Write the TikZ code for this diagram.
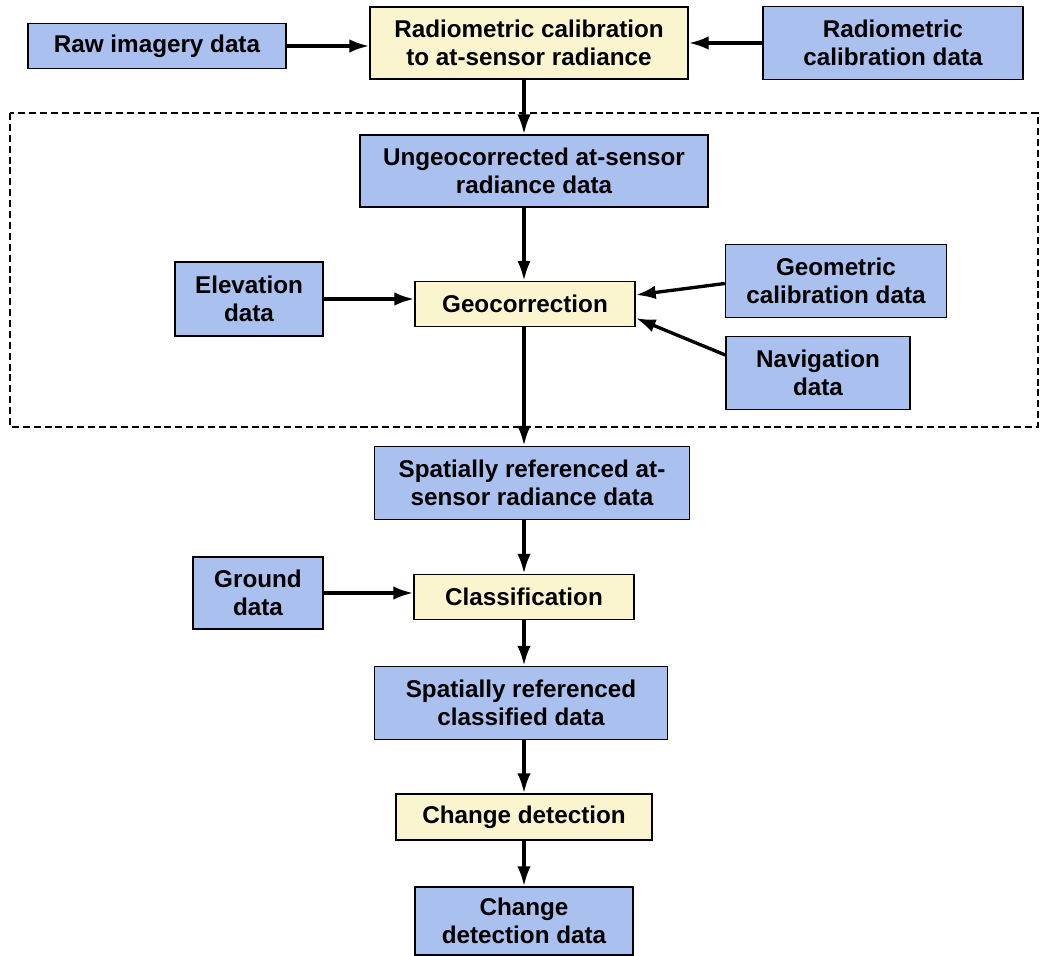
\documentclass[tikz,border=0pt]{standalone}
\usepackage{fontspec}
\setmainfont{Liberation Sans}
\usepackage{xcolor}
\usepackage{tikz}
\usetikzlibrary{arrows.meta}
\definecolor{datblue}{HTML}{AAC0EF}
\definecolor{stepyellow}{HTML}{FBF5CF}

\begin{document}
\begin{tikzpicture}[x=0.02cm,y=-0.02cm,
    box/.style={draw,line width=0.8pt,align=center,inner sep=0pt,
                font=\bfseries\fontsize{13.8}{15.8}\selectfont},
    datbox/.style={box,fill=datblue},
    procbox/.style={box,fill=stepyellow},
    flow/.style={line width=1.9pt,-{Latex[length=0.4cm,width=0.27cm]}}]
      \useasboundingbox (0,0) rectangle (1041,956);
      % outer frame around the geocorrection stage
      \draw[dash pattern=on 4pt off 2.2pt,line width=1pt] (10,113) rectangle (1038,427);
      \node[datbox,minimum width=5.16cm,minimum height=0.9cm] (raw) at (157,46) {Raw imagery data};
      \node[procbox,minimum width=6.36cm,minimum height=1.44cm] (radcal) at (529,43) {Radiometric calibration\\to at-sensor radiance};
      \node[datbox,minimum width=5.2cm,minimum height=1.46cm] (radcaldat) at (893,43) {Radiometric\\calibration data};
      \node[datbox,minimum width=6.96cm,minimum height=1.44cm] (ungeo) at (534,171) {Ungeocorrected at-sensor\\radiance data};
      \node[datbox,minimum width=2.96cm,minimum height=1.48cm] (elev) at (249,299) {Elevation\\data};
      \node[procbox,minimum width=4.4cm,minimum height=0.9cm] (geo) at (525,304) {Geocorrection};
      \node[datbox,minimum width=4.42cm,minimum height=1.46cm] (geomcal) at (836,281) {Geometric\\calibration data};
      \node[datbox,minimum width=3.68cm,minimum height=1.46cm] (nav) at (818,373) {Navigation\\data};
      \node[datbox,minimum width=6.3cm,minimum height=1.46cm] (spatrad) at (532,483) {Spatially referenced at-\\sensor radiance data};
      \node[datbox,minimum width=2.6cm,minimum height=1.44cm] (ground) at (258,593) {Ground\\data};
      \node[procbox,minimum width=4.4cm,minimum height=0.9cm] (classif) at (524,597) {Classification};
      \node[datbox,minimum width=5.86cm,minimum height=1.46cm] (spatcls) at (521,703) {Spatially referenced\\classified data};
      \node[procbox,minimum width=5.12cm,minimum height=0.92cm] (chdet) at (524,817) {Change detection};
      \node[datbox,minimum width=4.36cm,minimum height=1.36cm] (chdat) at (524,921) {Change\\detection data};
      % inputs
      \draw[flow] (raw.east) -- (raw.east -| radcal.west);
      \draw[flow] (radcaldat.west) -- (radcaldat.west -| radcal.east);
      \draw[flow] (elev.east) -- (elev.east -| geo.west);
      \draw[flow] ([yshift=-0.05cm]geomcal.west) -- ([yshift=0.18cm]geo.east);
      \draw[flow] ([yshift=0.36cm]nav.west) -- ([yshift=-0.28cm]geo.east);
      \draw[flow] (ground.east) -- (ground.east -| classif.west);
      % main column
      \draw[flow] (radcal.south -| chdet) -- (ungeo.north -| chdet);
      \draw[flow] (ungeo.south -| chdet) -- (geo.north -| chdet);
      \draw[flow] (geo.south -| chdet) -- (spatrad.north -| chdet);
      \draw[flow] (spatrad.south -| chdet) -- (classif.north -| chdet);
      \draw[flow] (classif.south -| chdet) -- (spatcls.north -| chdet);
      \draw[flow] (spatcls.south -| chdet) -- (chdet.north);
      \draw[flow] (chdet.south) -- (chdat.north);
    \end{tikzpicture}
\end{document}
